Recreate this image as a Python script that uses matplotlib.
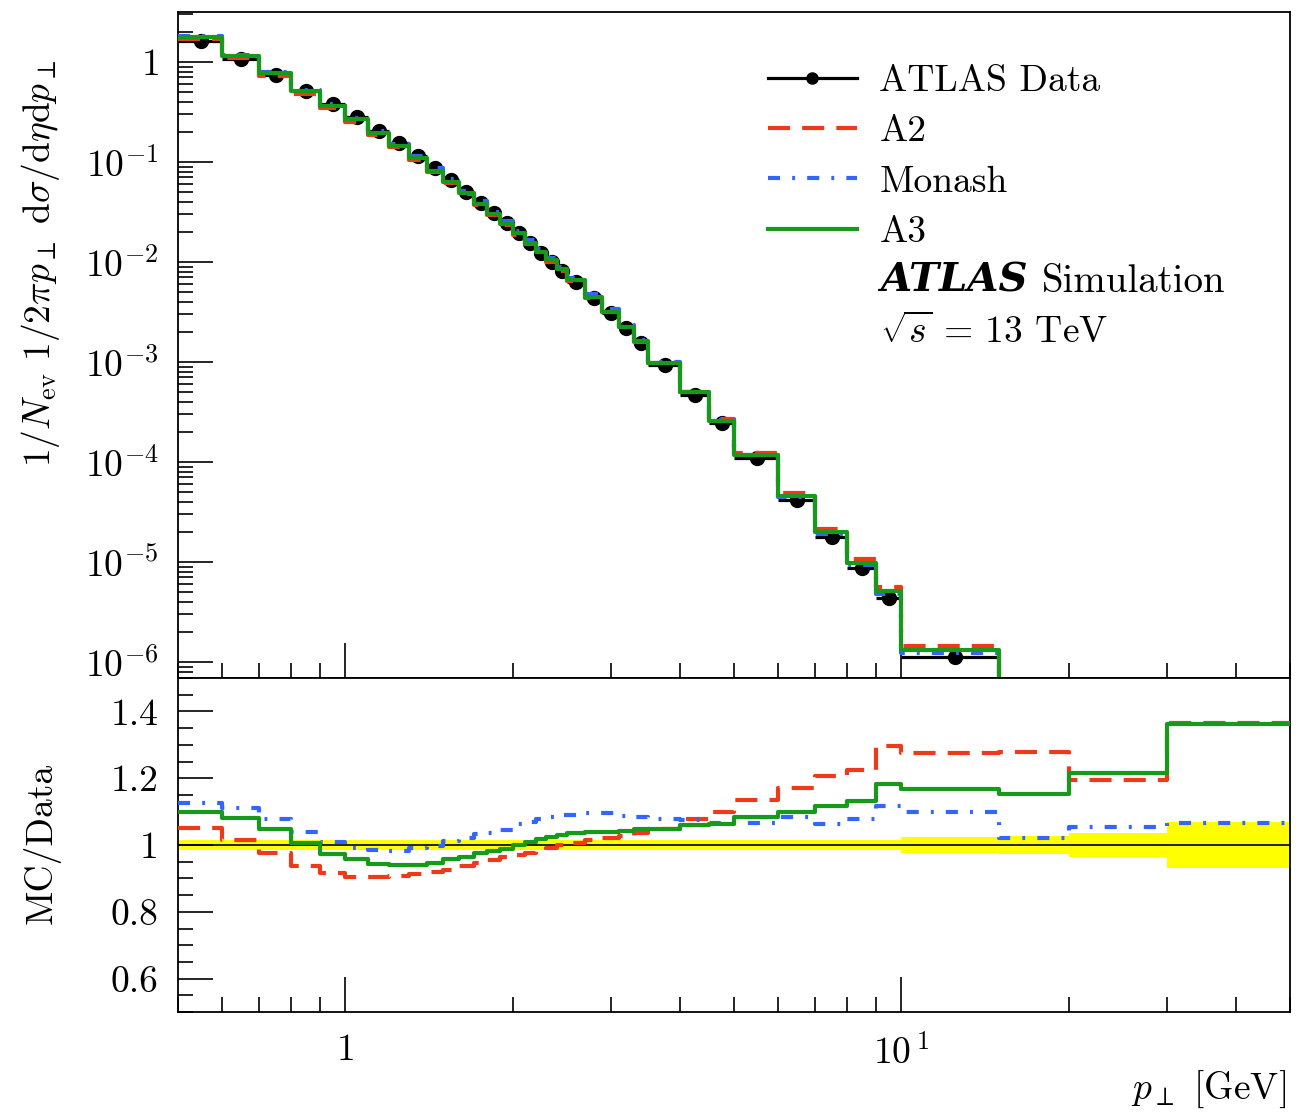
import numpy as np
import matplotlib
matplotlib.use("Agg")
import matplotlib.pyplot as plt
from matplotlib.lines import Line2D
from matplotlib.ticker import LogLocator, MultipleLocator, FixedLocator, NullFormatter

# bin edges in pT [GeV]
edges = [0.5, 0.6, 0.7, 0.8, 0.9, 1.0, 1.1, 1.2, 1.3, 1.4, 1.5, 1.6, 1.7, 1.8,
         1.9, 2.0, 2.1, 2.2, 2.3, 2.4, 2.5, 2.7, 2.9, 3.1, 3.3, 3.5, 4.0, 4.5,
         5.0, 6.0, 7.0, 8.0, 9.0, 10.0, 15.0, 20.0, 30.0, 50.0]

# ATLAS data, 1/Nev 1/2pi pT d sigma/deta dpT
data = [1.62, 1.07, 0.74, 0.51, 0.377, 0.28, 0.206, 0.154, 0.116, 0.0865,
        0.066, 0.0505, 0.039, 0.0307, 0.0244, 0.0194, 0.0154, 0.0124, 0.0101,
        0.0082, 0.00636, 0.00433, 0.00307, 0.00217, 0.00154, 9.33e-4, 4.68e-4,
        2.44e-4, 1.09e-4, 4.17e-5, 1.79e-5, 8.65e-6, 4.33e-6, 1.13e-6, 2.4e-7,
        5.0e-8, 4.0e-9]

# relative data uncertainty (yellow band)
data_relerr = [0.014] * 20 + [0.016] * 13 + [0.024, 0.027, 0.036, 0.0675]

# MC / Data
ratio_a2 = [1.05, 1.015, 0.975, 0.938, 0.915, 0.905, 0.905, 0.907, 0.912, 0.92,
            0.925, 0.937, 0.945, 0.955, 0.963, 0.97, 0.975, 0.982, 0.99, 1.0,
            1.007, 1.015, 1.022, 1.027, 1.035, 1.048, 1.078, 1.098, 1.135, 1.17,
            1.207, 1.225, 1.295, 1.275, 1.278, 1.195, 1.365]
ratio_monash = [1.125, 1.11, 1.077, 1.04, 1.01, 0.99, 0.985, 0.983, 0.99, 0.997,
                1.013, 1.02, 1.033, 1.037, 1.045, 1.062, 1.07, 1.077, 1.085, 1.09,
                1.09, 1.097, 1.095, 1.088, 1.085, 1.078, 1.075, 1.067, 1.066, 1.083,
                1.063, 1.077, 1.117, 1.10, 1.02, 1.053, 1.065]
ratio_a3 = [1.10, 1.082, 1.047, 1.007, 0.972, 0.957, 0.942, 0.94, 0.94, 0.947,
            0.957, 0.965, 0.975, 0.981, 0.989, 0.999, 1.01, 1.018, 1.025, 1.03,
            1.035, 1.039, 1.04, 1.043, 1.047, 1.049, 1.06, 1.063, 1.085, 1.10,
            1.117, 1.132, 1.183, 1.167, 1.153, 1.217, 1.363]

FS = 27
plt.rcParams.update({
    "font.family": ["cmr10", "DejaVu Serif"],
    "mathtext.fontset": "cm",
    "axes.formatter.use_mathtext": True,
    "axes.unicode_minus": False,
    "font.size": FS,
    "axes.linewidth": 1.3,
})

edges = np.array(edges)
data = np.array(data)
err = np.array(data_relerr)
centers = 0.5 * (edges[1:] + edges[:-1])

models = [
    ("A2", np.array(ratio_a2), "#ee3a1a", (0, (5.3, 2.9))),
    ("Monash", np.array(ratio_monash), "#3366ff", (0, (2.9, 2.9, 0.7, 2.9))),
    ("A3", np.array(ratio_a3), "#179a1c", "-"),
]

W, H = 1312, 1115
fig = plt.figure(figsize=(W / 100, H / 100), dpi=100)
ax = fig.add_axes([178 / W, 1 - 678 / H, 1112 / W, 666 / H])
rx = fig.add_axes([178 / W, 1 - 1012 / H, 1112 / W, 334 / H], sharex=ax)


def steps(vals):
    return np.append(vals, vals[-1])


# ---- main panel
ax.errorbar(centers, data, xerr=[centers - edges[:-1], edges[1:] - centers],
            fmt="o", color="k", ms=10, elinewidth=2.3, capsize=0, zorder=2)
handles = [Line2D([], [], color="k", lw=2.3, marker="o", ms=8)]
for name, ratio, color, ls in models:
    h, = ax.step(edges, steps(data * ratio), where="post", color=color,
                 lw=3, linestyle=ls, label=name, zorder=3)
    handles.append(h)

ax.set_xscale("log")
ax.set_yscale("log")
ax.set_xlim(0.5, 50)
ax.set_ylim(6.92e-7, 3.16)
ax.yaxis.set_major_locator(FixedLocator([1e-6, 1e-5, 1e-4, 1e-3, 1e-2, 1e-1, 1]))
ax.set_yticklabels([r"$10^{-6}$", r"$10^{-5}$", r"$10^{-4}$", r"$10^{-3}$",
                    r"$10^{-2}$", r"$10^{-1}$", r"$1$"])
ax.yaxis.set_minor_locator(LogLocator(base=10, subs=np.arange(2, 10), numticks=30))
ax.yaxis.set_minor_formatter(NullFormatter())
ax.set_ylabel(r"$1/N_{\mathrm{ev}}\ 1/2\pi p_\perp\ \mathrm{d}\sigma/\mathrm{d}\eta\mathrm{d}p_\perp$",
              loc="top", fontsize=FS)
ax.yaxis.set_label_coords(-0.104, 0.928)

leg = ax.legend(handles, ["ATLAS Data", "A2", "Monash", "A3"], loc="upper left",
                bbox_to_anchor=(768 / W, 1 - 65 / H), bbox_transform=fig.transFigure,
                frameon=False, fontsize=FS, numpoints=1, handlelength=2.37,
                handletextpad=0.6, labelspacing=0.45, borderpad=0, borderaxespad=0)

t1 = fig.text(880 / W, 1 - 292 / H, "ATLAS", family="DejaVu Serif",
              weight="bold", style="italic", fontsize=FS + 2, va="baseline")
fig.canvas.draw()
bb = t1.get_window_extent(renderer=fig.canvas.get_renderer())
fig.text(bb.x1 / W + 14 / W, 1 - 292 / H, "Simulation", fontsize=FS + 1, va="baseline")
fig.text(880 / W, 1 - 343 / H, r"$\sqrt{s}$ = 13 TeV", fontsize=FS, va="baseline")

# ---- ratio panel
rx.stairs(1 + err, edges, baseline=1 - err, fill=True, color="#ffff00", lw=0, zorder=1)
rx.axhline(1, color="k", lw=1.2, zorder=2)
for name, ratio, color, ls in models:
    rx.step(edges, steps(ratio), where="post", color=color, lw=3, linestyle=ls, zorder=3)

rx.set_ylim(0.5, 1.5)
rx.yaxis.set_major_locator(FixedLocator([0.6, 0.8, 1.0, 1.2, 1.4]))
rx.set_yticklabels(["0.6", "0.8", "1", "1.2", "1.4"])
rx.yaxis.set_minor_locator(MultipleLocator(0.05))
rx.xaxis.set_major_locator(FixedLocator([1, 10]))
rx.set_xticklabels([r"$1$", r"$10^{\,1}$"])
rx.xaxis.set_minor_locator(LogLocator(base=10, subs=np.arange(2, 10), numticks=30))
rx.xaxis.set_minor_formatter(NullFormatter())
rx.set_ylabel("MC/Data", fontsize=FS)
rx.yaxis.set_label_coords(-0.106, 0.506)
rx.set_xlabel(r"$p_\perp$ [GeV]", loc="right", fontsize=FS)
rx.xaxis.set_label_coords(0.996, -0.17)

for a in (ax, rx):
    a.tick_params(which="both", direction="in", top=False, right=False,
                  width=1.2, labelsize=FS)
    a.tick_params(which="major", length=25, pad=14)
    a.tick_params(which="minor", length=11)
ax.tick_params(labelbottom=False)
rx.tick_params(axis="x", which="major", pad=16)

fig.savefig("out.png", dpi=100)
